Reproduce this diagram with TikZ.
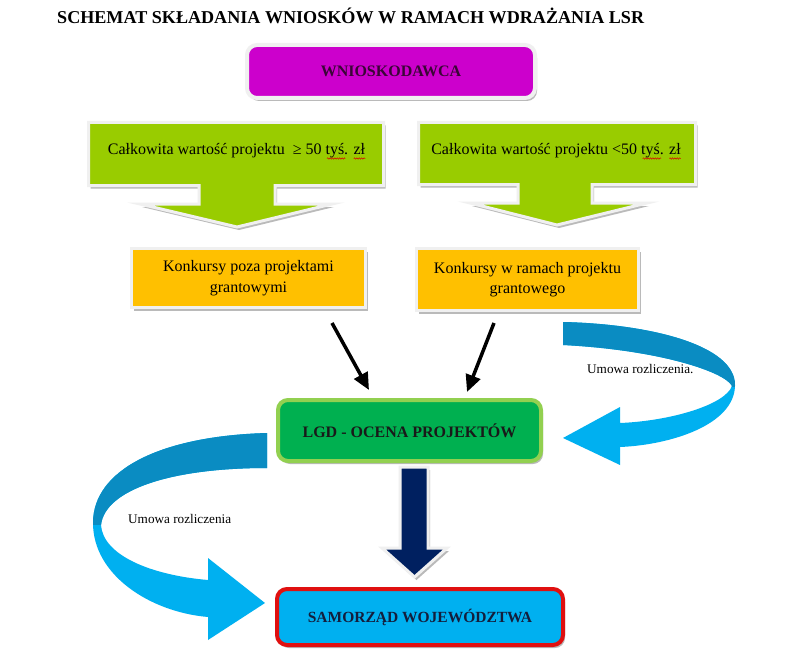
\documentclass[tikz,border=0pt]{standalone}
\usepackage{fontspec}
\setmainfont{Liberation Serif}
\usetikzlibrary{shadows,arrows.meta,calc,decorations.pathmorphing}
\definecolor{magen}{HTML}{CC00CC}
\definecolor{lime}{HTML}{99CC00}
\definecolor{orng}{HTML}{FFC000}
\definecolor{lgdfill}{HTML}{00B050}
\definecolor{lgdline}{HTML}{92D050}
\definecolor{skyb}{HTML}{00B0F0}
\definecolor{redline}{HTML}{E01010}
\definecolor{navy}{HTML}{002060}
\definecolor{dblue}{HTML}{0A8CC2}
\definecolor{lblue}{HTML}{00B0F0}
\definecolor{purpletext}{HTML}{3A0636}
\definecolor{navytext}{HTML}{141E3C}
\definecolor{rim}{HTML}{F0F0F0}
\newcommand\rcurvepath{(563,322) .. controls (650,324) and (735,345) .. (735,385) .. controls (735,425) and (670,445) .. (620,447) -- (620,465) -- (563,438) -- (620,407) -- (620,423) .. controls (670,421) and (725,405) .. (732,386) .. controls (725,372) and (660,350) .. (563,345) -- cycle}
\newcommand\lcurvepath{(267,433) .. controls (160,436) and (93,470) .. (93,523) .. controls (93,575) and (150,612) .. (208,617) -- (208,640) -- (265,603) -- (208,558) -- (208,580) .. controls (150,575) and (103,555) .. (101,525) .. controls (105,490) and (170,468) .. (267,468) -- cycle}
\begin{document}
\begin{tikzpicture}[x=1pt,y=-1pt,
  shd/.style={drop shadow={shadow xshift=2pt,shadow yshift=-3pt,fill=black!45,opacity=.6}},
  bigbox/.style={shd,rounded corners=10pt,line width=4pt,inner sep=0pt,align=center,
    font=\fontsize{16}{20}\selectfont\bfseries},
  greenarrow/.style={shd,fill=lime,draw=rim,line width=3pt,line join=miter},
  orangebox/.style={shd,fill=orng,draw=rim,line width=3pt,inner sep=0pt,align=center,
    font=\fontsize{16}{20.5}\selectfont},
  blackarrow/.style={line width=3.5pt,-{Triangle[length=17pt,width=15pt]}},
  spell/.style={red!85!black,line width=0.5pt,decorate,decoration={snake,amplitude=0.7pt,segment length=2.4pt}},
  lbl/.style={font=\fontsize{13.2}{16}\selectfont,inner sep=0pt}]
\useasboundingbox (0,0) rectangle (786,663);
\fill[white] (0,0) rectangle (786,663);

% title
\node[anchor=base west,inner sep=0pt,font=\fontsize{18.1}{20}\selectfont\bfseries] (title) at (57,24)
  {SCHEMAT SKŁADANIA WNIOSKÓW W RAMACH WDRAŻANIA LSR};

% applicant
\node[bigbox,fill=magen,draw=rim,text=purpletext,minimum width=288pt,minimum height=53pt] (w) at (391,71.5) {WNIOSKODAWCA};

% green block arrows
\draw[greenarrow] (88.5,122.5) -- (383.5,122.5) -- (383.5,185.5) -- (275,185.5) -- (275,204) -- (332,204) -- (237,227) -- (140,204) -- (199,204) -- (199,185.5) -- (88.5,185.5) -- cycle;
\draw[greenarrow] (418.5,122.5) -- (695.5,122.5) -- (695.5,184.5) -- (592,184.5) -- (592,203) -- (647,203) -- (557,225) -- (470,203) -- (518,203) -- (518,184.5) -- (418.5,184.5) -- cycle;
\node[anchor=base,inner sep=0pt,font=\fontsize{16}{20}\selectfont] (g1) at (236.5,155) {Całkowita wartość projektu~ ≥ 50 tyś. zł};
\node[anchor=base,inner sep=0pt,font=\fontsize{16}{20}\selectfont] (g2) at (556,155) {Całkowita wartość projektu <50 tyś. zł};
\foreach \g in {g1,g2}{
  \draw[spell] ($(\g.base east)+(-38.3,3.5)$) -- ($(\g.base east)+(-19.8,3.5)$);
  \draw[spell] ($(\g.base east)+(-11.6,3.5)$) -- ($(\g.base east)+(0,3.5)$);
}

% orange boxes
\node[orangebox,minimum width=234pt,minimum height=59pt] (k1) at (248.5,278) {Konkursy poza projektami\\grantowymi};
\node[orangebox,minimum width=222pt,minimum height=62pt] (k2) at (527.5,279.5) {Konkursy w ramach projektu\\grantowego};

% LGD
\node[bigbox,fill=lgdfill,draw=lgdline,text=black!90,minimum width=263pt,minimum height=61pt,font=\fontsize{16}{20}\selectfont\bfseries] (lgd) at (409.5,430.5) {LGD - OCENA PROJEKTÓW};

% Samorzad
\node[bigbox,fill=skyb,draw=redline,text=navytext,minimum width=286pt,minimum height=56pt,font=\fontsize{15.5}{20}\selectfont\bfseries] (sam) at (420,617) {SAMORZĄD WOJEWÓDZTWA};

% black arrows
\coordinate (a1s) at (332,323);
\coordinate (a1e) at (369,390);
\coordinate (a2s) at (494,323);
\coordinate (a2e) at (467,392);
\draw[blackarrow] (a1s) -- (a1e);
\draw[blackarrow] (a2s) -- (a2e);

% navy block arrow
\draw[shd,fill=navy,draw=rim,line width=3pt,line join=miter] (400,467) -- (428,467) -- (428,548) -- (447,548) -- (414.5,577) -- (382,548) -- (400,548) -- cycle;

% curved arrows
\fill[lblue] \rcurvepath;
\begin{scope}
  \clip (550,300) rectangle (760,386);
  \fill[dblue] \rcurvepath;
\end{scope}
\fill[lblue] \lcurvepath;
\begin{scope}
  \clip (80,420) rectangle (280,524);
  \fill[dblue] \lcurvepath;
\end{scope}

\node[lbl,anchor=base west] (u1) at (587,373) {Umowa rozliczenia.};
\node[lbl,anchor=base west] (u2) at (128,523) {Umowa rozliczenia};
\end{tikzpicture}
\end{document}
